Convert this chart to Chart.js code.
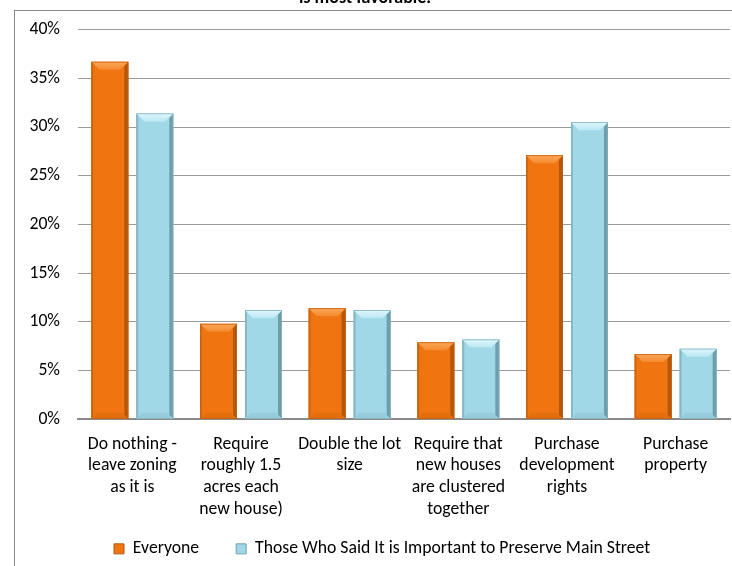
<!DOCTYPE html>
<html>
<head>
<meta charset="utf-8">
<script src="https://cdn.jsdelivr.net/npm/chart.js@4/dist/chart.umd.min.js"></script>
<style>
  html, body { margin: 0; padding: 0; background: #fff; width: 732px; height: 566px; overflow: hidden; }
  #chart { position: absolute; left: 0; top: -12px; }
  #frame { position: absolute; left: 14px; top: 10px; width: 900px; height: 800px;
           border-left: 1px solid #868686; border-top: 1px solid #868686; pointer-events: none; }
</style>
</head>
<body>
<canvas id="chart" width="732" height="610"></canvas>
<div id="frame"></div>
<script>
// Survey options (multi-line category labels)
const categories = [
  ["Do nothing -", "leave zoning", "as it is"],
  ["Require", "roughly 1.5", "acres each", "new house)"],
  ["Double the lot", "size"],
  ["Require that", "new houses", "are clustered", "together"],
  ["Purchase", "development", "rights"],
  ["Purchase", "property"]
];
// Share of respondents choosing each option, in percent
const everyone   = [36.7, 9.8, 11.4, 7.9, 27.1, 6.7];
const mainStreet = [31.4, 11.2, 11.2, 8.2, 30.5, 7.25];
const seriesNames = ["Everyone", "Those Who Said It is Important to Preserve Main Street"];
const yTicks = [0, 5, 10, 15, 20, 25, 30, 35, 40];

const FONT = "Carlito, 'Liberation Sans Narrow', 'Liberation Sans', sans-serif";
const FONT_SIZE = 17.7;

// Bevel shading painted on top of each bar, using the bar geometry from Chart.js
const bevelStyles = [
  { top: '#FAA75A', topMid: '#F58A2E', right: '#B2570D', left: '#D4680F', bottom: '#D9670C', edge: '#C9620F' },
  { top: '#DDF7FD', topMid: '#BCE7F3', right: '#6F9EAA', left: '#88BCCA', bottom: '#8EC3D2', edge: '#82B2BF' }
];

const bevelPlugin = {
  id: 'bevel',
  afterDatasetsDraw(chart) {
    const ctx = chart.ctx;
    chart.data.datasets.forEach((ds, di) => {
      const meta = chart.getDatasetMeta(di);
      const st = bevelStyles[di];
      meta.data.forEach(bar => {
        const p = bar.getProps(['x', 'y', 'base', 'width'], true);
        const l = p.x - p.width / 2, r = p.x + p.width / 2, t = p.y, b = p.base;
        const bt = 8, bs = 4, bb = 6;
        ctx.save();
        // left edge
        ctx.fillStyle = st.left;
        ctx.beginPath();
        ctx.moveTo(l, t); ctx.lineTo(l + 2, t + 2); ctx.lineTo(l + 2, b - 2); ctx.lineTo(l, b);
        ctx.closePath(); ctx.fill();
        // bottom face
        ctx.fillStyle = st.bottom;
        ctx.globalAlpha = 0.55;
        ctx.beginPath();
        ctx.moveTo(l, b); ctx.lineTo(r, b); ctx.lineTo(r - bb, b - bb); ctx.lineTo(l + bb, b - bb);
        ctx.closePath(); ctx.fill();
        ctx.globalAlpha = 1;
        // shaded right side
        ctx.fillStyle = st.right;
        ctx.beginPath();
        ctx.moveTo(r, t); ctx.lineTo(r, b); ctx.lineTo(r - bs, b - bs); ctx.lineTo(r - bs, t + bs);
        ctx.closePath(); ctx.fill();
        // lit top face
        const g = ctx.createLinearGradient(0, t, 0, t + bt);
        g.addColorStop(0, st.top);
        g.addColorStop(1, st.topMid);
        ctx.fillStyle = g;
        ctx.beginPath();
        ctx.moveTo(l, t); ctx.lineTo(r, t); ctx.lineTo(r - bt, t + bt); ctx.lineTo(l + bt, t + bt);
        ctx.closePath(); ctx.fill();
        // outline
        ctx.strokeStyle = st.edge;
        ctx.lineWidth = 0.8;
        ctx.strokeRect(l + 0.4, t + 0.4, p.width - 0.8, b - t - 0.8);
        ctx.restore();
      });
    });
  }
};

// Legend row: first marker starts at x=114, row sits near the bottom edge
const LEGEND_X = 114;
const LEGEND_TOP = 515;
const legendPlace = {
  id: 'legendPlace',
  afterLayout(chart) {
    const lg = chart.legend;
    if (!lg) return;
    const pad = lg.options.labels.padding;
    const lw = lg.lineWidths ? lg.lineWidths[0] : 0;
    const x0 = (lg.left + pad + lg.right - lw) / 2;
    const dx = LEGEND_X - x0;
    const h = lg.height;
    lg.left += dx;
    lg.right += dx;
    lg.top = LEGEND_TOP;
    lg.bottom = LEGEND_TOP + h;
  }
};

const chart = new Chart(document.getElementById('chart'), {
  type: 'bar',
  data: {
    labels: categories,
    datasets: [
      { label: seriesNames[0], data: everyone, backgroundColor: '#F07510', borderWidth: 0 },
      { label: seriesNames[1], data: mainStreet, backgroundColor: '#A0D8E8', borderWidth: 0 }
    ]
  },
  options: {
    responsive: false,
    animation: false,
    events: [],
    layout: { padding: { left: 0, right: 2, top: 0, bottom: 0 } },
    datasets: { bar: { categoryPercentage: 0.828, barPercentage: 0.822 } },
    plugins: {
      title: {
        display: true,
        text: 'is most favorable.',
        color: '#000',
        font: { family: FONT, size: 18, weight: 'bold' },
        padding: { top: 0, bottom: 20 }
      },
      legend: {
        position: 'bottom',
        labels: {
          color: '#000',
          font: { family: FONT, size: FONT_SIZE },
          boxWidth: 10,
          boxHeight: 10,
          padding: 37,
          generateLabels(chart) {
            return chart.data.datasets.map((ds, i) => ({
              text: ds.label,
              fillStyle: ds.backgroundColor,
              strokeStyle: i === 0 ? '#B2570D' : '#6F9EAA',
              lineWidth: 1,
              datasetIndex: i
            }));
          }
        }
      },
      tooltip: { enabled: false }
    },
    scales: {
      x: {
        grid: { display: false, drawTicks: false },
        border: { display: true, color: '#8A8A8A', width: 2 },
        ticks: {
          color: '#000',
          font: { family: FONT, size: FONT_SIZE, lineHeight: 1.225 },
          maxRotation: 0,
          autoSkip: false,
          padding: 14
        },
        afterFit(scale) { scale.height = 114; }
      },
      y: {
        min: 0,
        max: 40,
        afterBuildTicks(scale) { scale.ticks = yTicks.map(v => ({ value: v })); },
        grid: { color: '#9A9A9A', lineWidth: 1, drawTicks: false },
        border: { display: false },
        ticks: {
          color: '#000',
          font: { family: FONT, size: FONT_SIZE },
          padding: 18,
          callback: v => v + '%'
        },
        afterFit(scale) { scale.width = 78; }
      }
    }
  },
  plugins: [bevelPlugin, legendPlace]
});
</script>
</body>
</html>
